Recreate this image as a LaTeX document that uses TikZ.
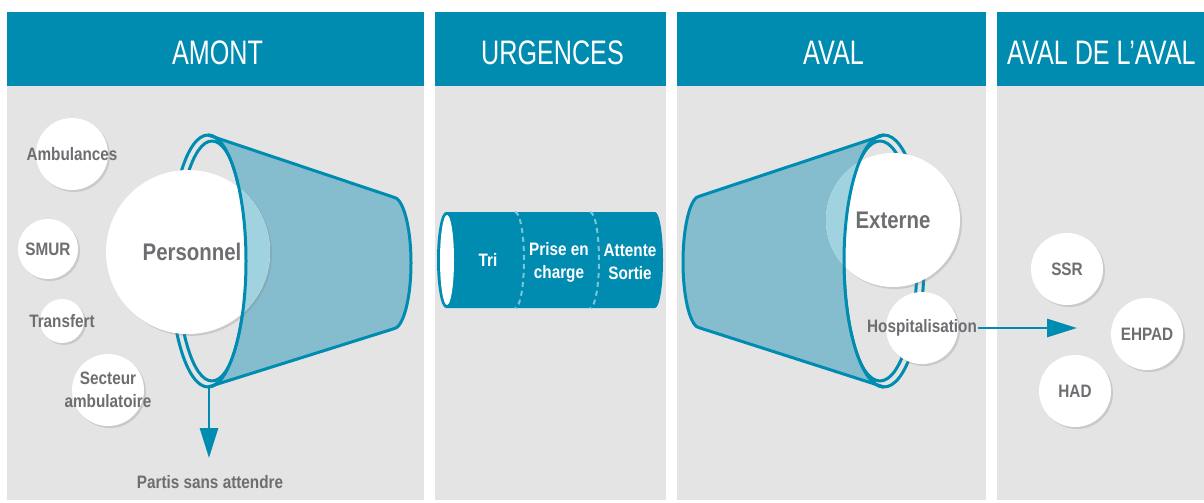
\documentclass[tikz,border=0pt]{standalone}
\usepackage{fontspec}
\setmainfont{Liberation Sans}
\newfontfamily\headfont[FakeStretch=0.74]{Liberation Sans}
\newfontfamily\bodyfont[FakeStretch=0.85]{Liberation Sans}
\usetikzlibrary{shadows,arrows.meta}
\definecolor{bleu}{RGB}{0,139,176}
\definecolor{grisfond}{RGB}{228,228,228}
\definecolor{entonnoir}{RGB}{134,189,206}
\definecolor{clair}{RGB}{160,210,224}
\definecolor{gristexte}{RGB}{109,110,113}
\definecolor{pointille}{RGB}{122,196,217}

\begin{document}
\begin{tikzpicture}[x=1pt,y=-1pt,
	bulle/.style={circle,fill=white,inner sep=0pt,drop shadow={shadow xshift=2pt,shadow yshift=-2pt,opacity=.25}},
	etiq/.style={font=\bodyfont\bfseries\fontsize{18}{23}\selectfont,text=gristexte,align=center,inner sep=1pt},
	grand/.style={etiq,font=\bodyfont\bfseries\fontsize{24}{28}\selectfont},
	tubetxt/.style={font=\bodyfont\bfseries\fontsize{18}{23}\selectfont,text=white,align=center},
	titre/.style={font=\headfont\fontsize{34}{36}\selectfont,text=white,inner sep=2pt},
	trait/.style={draw=bleu,line width=3pt,line join=round},
	fleche/.style={draw=bleu,line width=2.8pt,-{Triangle[length=30pt,width=18pt]}}]
	\useasboundingbox (0,0) rectangle (1204,503);
	
	% colonnes
	\foreach \xa/\xb/\nom/\txt in {7/424/amont/AMONT,435/666/urg/URGENCES,677/986/aval/AVAL}{
		\fill[grisfond] (\xa,86) rectangle (\xb,500);
		\fill[bleu] (\xa,12) rectangle (\xb,86);
		\node[titre] (t\nom) at ({(\xa+\xb)/2+2},53) {\txt};
	}
	\fill[grisfond] (997,86) rectangle (1204,500);
	\fill[bleu] (997,12) rectangle (1204,86);
	\node[titre,anchor=west] (tavalaval) at (1005,53) {AVAL DE L’AVAL};
	
	% entonnoir amont
	\draw[trait] (208,261) ellipse[x radius=38,y radius=126];
	\draw[trait] (212,261) ellipse[x radius=35,y radius=120];
	\fill[entonnoir] (208,135) -- (393,197) arc[start angle=-90,end angle=90,x radius=18,y radius=66] -- (208,387) arc[start angle=90,end angle=-90,x radius=38,y radius=126] -- cycle;
	\draw[trait] (208,135) -- (393,197) arc[start angle=-90,end angle=90,x radius=18,y radius=66] -- (208,387);
	\coordinate (bordbas) at (209,387);
	\coordinate (finpsa) at (209,458);
	\draw[fleche] (bordbas) -- (finpsa);
	\node[etiq] (psa) at (210,482) {Partis sans attendre};
	
	\node[bulle,minimum size=72pt,label={[etiq]center:Ambulances}] (amb) at (72,154) {};
	\node[bulle,minimum size=60pt,label={[etiq]center:SMUR}] (smur) at (48,249) {};
	\node[bulle,minimum size=44pt,label={[etiq]center:Transfert}] (transf) at (62,321) {};
	\node[bulle,minimum size=72pt,label={[etiq]center:Secteur\\ambulatoire}] (secteur) at (108,390) {};
	\node[bulle,minimum size=164pt,label={[grand,xshift=4pt]center:Personnel}] (perso) at (188,252) {};
	\begin{scope}
		\clip (188,252) circle[radius=82];
		\fill[clair] (208,135) -- (393,197) arc[start angle=-90,end angle=90,x radius=18,y radius=66] -- (208,387) arc[start angle=90,end angle=-90,x radius=38,y radius=126] -- cycle;
	\end{scope}
	\draw[trait] (208,387) arc[start angle=90,end angle=-90,x radius=38,y radius=126];
	
	% tube urgences
	\fill[bleu] (446,212) -- (655,212) arc[start angle=-90,end angle=90,x radius=8,y radius=48] -- (446,308) arc[start angle=90,end angle=270,x radius=9,y radius=48] -- cycle;
	\fill[white] (447,260) ellipse[x radius=7,y radius=45];
	\foreach \xd in {515,590}
	\draw[pointille,line width=2pt,dash pattern=on 5pt off 4pt] (\xd,212) arc[start angle=-90,end angle=90,x radius=9,y radius=48];
	\node[tubetxt] (tri) at (488,260) {Tri};
	\node[tubetxt] (prise) at (559,262) {Prise en\\charge};
	\node[tubetxt] (attente) at (630,262) {Attente\\Sortie};
	
	% entonnoir aval
	\draw[trait] (884,261) ellipse[x radius=40,y radius=126];
	\draw[trait] (880,261) ellipse[x radius=37,y radius=120];
	\fill[entonnoir] (884,135) -- (700,196) arc[start angle=-90,end angle=-270,x radius=17,y radius=66] -- (884,387) arc[start angle=90,end angle=270,x radius=40,y radius=126] -- cycle;
	\draw[trait] (884,135) -- (700,196) arc[start angle=-90,end angle=-270,x radius=17,y radius=66] -- (884,387);
	\node[bulle,minimum size=134pt,label={[grand]center:Externe}] (externe) at (893,220) {};
	\begin{scope}
		\clip (893,220) circle[radius=67];
		\fill[clair] (884,135) -- (700,196) arc[start angle=-90,end angle=-270,x radius=17,y radius=66] -- (884,387) arc[start angle=90,end angle=270,x radius=40,y radius=126] -- cycle;
	\end{scope}
	\draw[trait] (884,387) arc[start angle=90,end angle=270,x radius=40,y radius=126];
	\node[bulle,minimum size=72pt,label={[etiq,name=hospt]center:Hospitalisation}] (hosp) at (922,328) {};
	\coordinate (versaval) at (1077,328);
	\draw[fleche] (hospt.east) -- (versaval);
	
	% aval de l'aval
	\node[bulle,minimum size=72pt,label={[etiq]center:SSR}] (ssr) at (1067,269) {};
	\node[bulle,minimum size=72pt,label={[etiq]center:EHPAD}] (ehpad) at (1147,334) {};
	\node[bulle,minimum size=72pt,label={[etiq]center:HAD}] (had) at (1075,391) {};
\end{tikzpicture}
\end{document}
